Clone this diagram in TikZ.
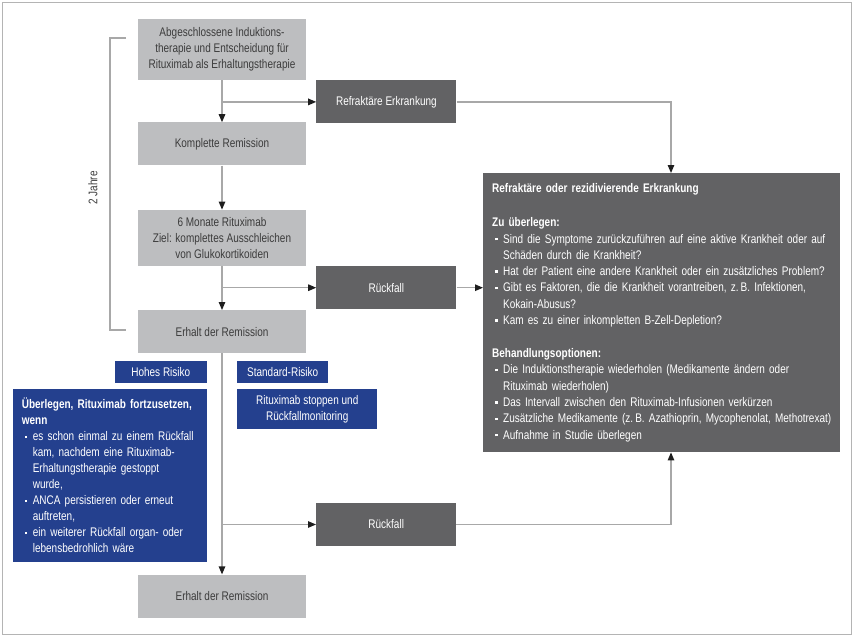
\documentclass[tikz,border=0pt]{standalone}
\usepackage{fontspec}
\setmainfont{Liberation Sans}[FakeStretch=0.8]
\usetikzlibrary{arrows.meta, positioning}

\definecolor{hellgrau}{HTML}{BDBEC0}
\definecolor{dunkelgrau}{HTML}{626264}
\definecolor{blau}{HTML}{24408E}
\definecolor{schrift}{HTML}{3C3C3C}
\definecolor{liniengrau}{HTML}{A8A8A8}
\definecolor{rahmengrau}{HTML}{B4B4B4}
\definecolor{spitze}{HTML}{1E1E1E}

\newcommand{\pkt}{\makebox[11pt][l]{\hspace{3pt}\rule[2.6pt]{2.6pt}{2.6pt}}}
\newcommand{\weiter}{\hspace*{11pt}}

\tikzset{
    kasten/.style={inner sep=0pt, align=center, font=\fontsize{12.5}{16}\selectfont},
    hell/.style={kasten, fill=hellgrau, text=schrift, minimum width=168pt, minimum height=43pt},
    dunkel/.style={kasten, fill=dunkelgrau, text=white, minimum width=140pt, minimum height=43pt},
    blaukasten/.style={kasten, fill=blau, text=white},
    pfeil/.style={color=liniengrau, line width=1.2pt, -{Triangle[length=8pt, width=6.5pt, color=spitze]}},
    klammer/.style={draw=liniengrau, line width=1.2pt},
    rahmen/.style={draw=rahmengrau, line width=1pt}
}

\begin{document}
\begin{tikzpicture}[x=1pt, y=1pt]
        \useasboundingbox (0,0) rectangle (854,-637);
        \draw [rahmen] (2,-2) rectangle (851,-634);

        \node (start) [hell, minimum height=61pt] at (222,-49.5) {Abgeschlossene Induktions-\\therapie und Entscheidung für\\Rituximab als Erhaltungstherapie};
        \node (komplett) [hell, below=42pt of start] {Komplette Remission};
        \node (sechs) [hell, minimum height=56pt, below=44pt of komplett] {6 Monate Rituximab\\Ziel: komplettes Ausschleichen\\von Glukokortikoiden};
        \node (erhalt) [hell, below=44pt of sechs] {Erhalt der Remission};
        \node (erhaltzwei) [hell, below=221pt of erhalt] {Erhalt der Remission};

        \node (refraktaer) [dunkel, anchor=north west] at ([xshift=10pt]start.south east) {Refraktäre Erkrankung};
        \node (rueckfall) [dunkel, anchor=north west] at ([xshift=10pt]sechs.south east) {Rückfall};
        \node (rueckfallzwei) [dunkel, anchor=west] at (316,-524.5) {Rückfall};

        \node (hoch) [blaukasten, minimum width=92pt, minimum height=22pt, anchor=north east] at ([xshift=-15pt, yshift=-7pt]erhalt.south) {Hohes Risiko};
        \node (standard) [blaukasten, minimum width=91pt, minimum height=22pt, anchor=north west] at ([xshift=15pt, yshift=-7pt]erhalt.south) {Standard-Risiko};
        \node (fortsetzen) [blaukasten, text width=176pt, minimum height=173pt, inner sep=9pt, align=left, anchor=north east] at ([yshift=-6pt]hoch.south east) {\textbf{Überlegen, Rituximab fortzusetzen,}\\
            \textbf{wenn}\\
            \pkt es schon einmal zu einem Rückfall\\
            \weiter kam, nachdem eine Rituximab-\\
            \weiter Erhaltungstherapie gestoppt\\
            \weiter wurde,\\
            \pkt ANCA persistieren oder erneut\\
            \weiter auftreten,\\
            \pkt ein weiterer Rückfall organ- oder\\
            \weiter lebensbedrohlich wäre};
        \node (stoppen) [blaukasten, minimum width=140pt, minimum height=40pt, anchor=north west] at ([yshift=-6pt]standard.south west) {Rituximab stoppen und\\Rückfallmonitoring};

        \node (optionen) [kasten, fill=dunkelgrau, text=white, text width=339pt, minimum height=279pt, inner sep=9pt, align=left, font=\fontsize{12.5}{16.3}\selectfont, anchor=north west] at (483,-173) {\textbf{Refraktäre oder rezidivierende Erkrankung}\\[17.7pt]
            \textbf{Zu überlegen:}\\
            \pkt Sind die Symptome zurückzuführen auf eine aktive Krankheit oder auf\\
            \weiter Schäden durch die Krankheit?\\
            \pkt Hat der Patient eine andere Krankheit oder ein zusätzliches Problem?\\
            \pkt Gibt es Faktoren, die die Krankheit vorantreiben, z.\,B. Infektionen,\\
            \weiter Kokain-Abusus?\\
            \pkt Kam es zu einer inkompletten B-Zell-Depletion?\\[16.7pt]
            \textbf{Behandlungsoptionen:}\\
            \pkt Die Induktionstherapie wiederholen (Medikamente ändern oder\\
            \weiter Rituximab wiederholen)\\
            \pkt Das Intervall zwischen den Rituximab-Infusionen verkürzen\\
            \pkt \mbox{Zusätzliche Medikamente (z.\,B. Azathioprin, Mycophenolat, Methotrexat)}\\
            \pkt Aufnahme in Studie überlegen};

        \coordinate (oben) at ([xshift=188pt]optionen.north west);
        \coordinate (unten) at ([xshift=188pt]optionen.south west);
        \coordinate (klammeroben) at (126,-38);
        \coordinate (klammerunten) at (126,-330);

        \path [pfeil]
        (start) edge (komplett)
        (komplett) edge (sechs)
        (sechs) edge (erhalt)
        (erhalt) edge (erhaltzwei)
        (start.south |- refraktaer.west) edge (refraktaer)
        (sechs.south |- rueckfall.west) edge (rueckfall)
        (erhalt.south |- rueckfallzwei.west) edge (rueckfallzwei)
        (rueckfall) edge (optionen.west |- rueckfall.east);
        \draw [pfeil] (refraktaer) -| (oben);
        \draw [pfeil] (rueckfallzwei) -| (unten);

        \draw [klammer] (klammeroben) -- ++(-16pt,0) |- (klammerunten);
        \node (jahre) [kasten, text=schrift, rotate=90] at (93,-188) {2 Jahre};
    \end{tikzpicture}
\end{document}
